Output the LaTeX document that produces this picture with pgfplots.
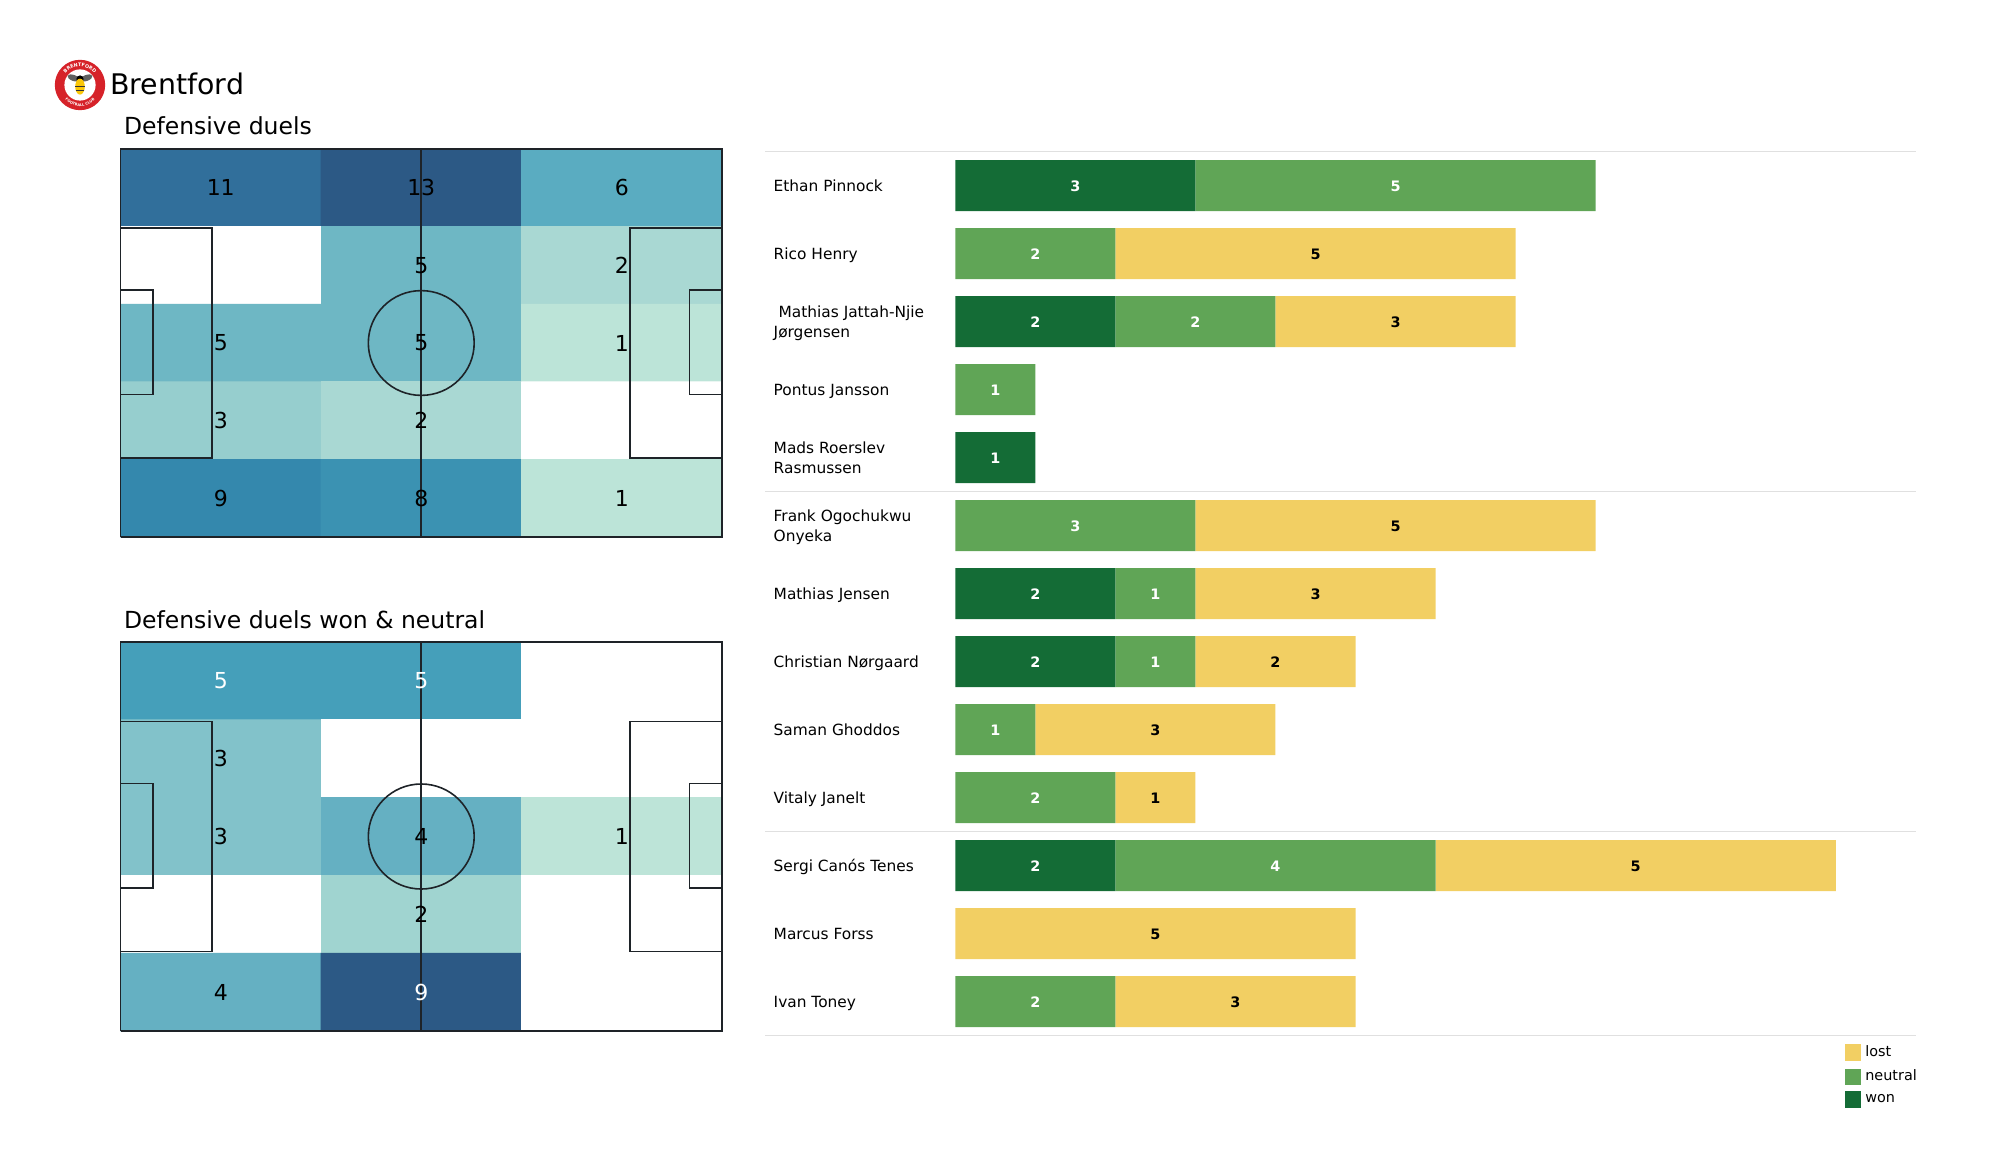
\documentclass[border=0pt]{standalone}
\usepackage{fontspec}
\setmainfont{DejaVu Sans}
\usepackage{pgfplots}
\usepackage{pgfplotstable}
\pgfplotsset{compat=1.18}
\usetikzlibrary{decorations.text}
\definecolor{wonc}{HTML}{146C36}
\definecolor{neutralc}{HTML}{60A556}
\definecolor{lostc}{HTML}{F2CF63}
\definecolor{rule}{HTML}{E0E0E0}
\definecolor{pline}{HTML}{1E2328}
\definecolor{crestred}{HTML}{D62229}

% keeps every name line the same height, so descenders do not move it
\newcommand{\nm}{\rule[-2pt]{0pt}{9pt}}

% heat cells, one row per cell
\pgfplotstableread{
x y v
16.667 90 11
50 90 13
83.333 90 6
16.667 70 0
50 70 5
83.333 70 2
16.667 50 5
50 50 5
83.333 50 1
16.667 30 3
50 30 2
83.333 30 0
16.667 10 9
50 10 8
83.333 10 1
}\duelsall
\pgfplotstableread{
x y v
16.667 90 5
50 90 5
83.333 90 0
16.667 70 3
50 70 0
83.333 70 0
16.667 50 3
50 50 4
83.333 50 1
16.667 30 0
50 30 2
83.333 30 0
16.667 10 4
50 10 9
83.333 10 0
}\duelswon

\pgfplotstableread{
row won neutral lost
1 3 5 0
2 0 2 5
3 2 2 3
4 0 1 0
5 1 0 0
6 0 3 5
7 2 1 3
8 2 1 2
9 0 1 3
10 0 2 1
11 2 4 5
12 0 0 5
13 0 2 3
}\duelbars

% label positions for the bars (middle of each segment)
\pgfplotstableread{
x y l
1.5 1 3
5.5 1 5
1 2 2
1 3 2
3 3 2
0.5 4 1
0.5 5 1
1.5 6 3
1 7 2
2.5 7 1
1 8 2
2.5 8 1
0.5 9 1
1 10 2
1 11 2
4 11 4
1 13 2
}\barlabelswhite
\pgfplotstableread{
x y l
4.5 2 5
5.5 3 3
5.5 6 5
4.5 7 3
4 8 2
2.5 9 3
2.5 10 1
8.5 11 5
2.5 12 5
3.5 13 3
}\barlabelsblack

\newcommand{\pitchlines}{%
  \addplot[pl] coordinates {(0,0) (100,0) (100,100) (0,100) (0,0)};
  \addplot[pl] coordinates {(50,0) (50,100)};
  \addplot[pl] coordinates {(0,20.4) (15.2,20.4) (15.2,79.6) (0,79.6)};
  \addplot[pl] coordinates {(100,20.4) (84.7,20.4) (84.7,79.6) (100,79.6)};
  \addplot[pl] coordinates {(0,36.7) (5.4,36.7) (5.4,63.6) (0,63.6)};
  \addplot[pl] coordinates {(100,36.7) (94.6,36.7) (94.6,63.6) (100,63.6)};
  \draw[color=pline, line width=0.8pt] (axis cs:50,50) ellipse [x radius=8.8, y radius=13.5];
}

\pgfplotsset{
  pl/.style={color=pline, line width=0.8pt, mark=none, forget plot},
  pitch/.style={
    scale only axis, width=300.75pt,
    xmin=0, xmax=100, ymin=0, ymax=100,
    axis lines=none, clip=false, ticks=none,
  },
  cellnum/.style={
    only marks, mark size=0pt, forget plot,
    point meta=explicit symbolic, nodes near coords,
    every node near coord/.append style={anchor=center, inner sep=0pt, text=#1},
  },
  sw/.style={legend image code/.code={
    \fill[##1] (0pt,-4.1pt) rectangle (8.3pt,4.1pt);}},
}

\begin{document}
\begin{tikzpicture}[x=1pt,y=1pt]
\path[use as bounding box] (0,0) rectangle (1000,587.5);

% crest
\begin{scope}[shift={(40,545)}]
  \fill[crestred] (0,0) circle (12.6);
  \fill[white] (0,0) circle (7.8);
  \path[postaction={decorate,decoration={text along path,text align=center,
     text={|\fontsize{2.4}{3}\bfseries\color{white}|BRENTFORD}}}]
     (-9.2,1.5) arc (170:10:9.3);
  \path[postaction={decorate,decoration={text along path,text align=center,
     text={|\fontsize{1.8}{3}\bfseries\color{white}|FOOTBALL CLUB}}}]
     (-10.2,-2) arc (190:350:10.4);
  \fill[gray!75!black,rotate=-20] (-4.2,2.2) ellipse (3.2 and 1.5);
  \fill[gray!75!black,rotate=20] (4.2,2.2) ellipse (3.2 and 1.5);
  \fill[black] (0,3) circle (1.8);
  \fill[yellow!60!orange] (0,-0.8) ellipse (2.4 and 4);
  \fill[black!80] (-2.3,-1.2) rectangle (2.3,-0.6);
  \fill[black!80] (-1.9,-3) rectangle (1.9,-2.4);
\end{scope}

\node[anchor=base west,inner sep=0pt,font=\fontsize{14.2}{17}\selectfont] at (55,540.2) {Brentford};
\node[anchor=base west,inner sep=0pt,font=\fontsize{11.75}{15}\selectfont] at (61.8,520.3) {Defensive duels};
\node[anchor=base west,inner sep=0pt,font=\fontsize{11.75}{15}\selectfont] at (61.8,273.5) {Defensive duels won \& neutral};

% first pitch
\begin{axis}[pitch, at={(60.25pt,319pt)}, anchor=south west, height=194pt,
  point meta min=0, point meta max=13,
  colormap={allduels}{
    rgb255(0)=(255,255,255) rgb255(1)=(188,228,216) rgb255(2)=(169,216,211)
    rgb255(3)=(150,206,206) rgb255(5)=(110,183,196) rgb255(6)=(90,172,193)
    rgb255(8)=(59,146,178) rgb255(9)=(52,136,173) rgb255(11)=(49,111,155)
    rgb255(13)=(44,89,133)},
  nodes near coords style={font=\fontsize{11}{13}\selectfont}]
  \addplot[matrix plot*, mesh/cols=3, point meta=explicit, forget plot]
    table[x=x, y=y, meta=v] {\duelsall};
  \pitchlines
  \addplot[cellnum=black] table[meta=l] {
    x y l
    16.667 90 11
    50 90 13
    83.333 90 6
    50 70 5
    83.333 70 2
    16.667 50 5
    50 50 5
    83.333 50 1
    16.667 30 3
    50 30 2
    16.667 10 9
    50 10 8
    83.333 10 1
  };
\end{axis}

% second pitch
\begin{axis}[pitch, at={(60.25pt,72pt)}, anchor=south west, height=194.5pt,
  point meta min=0, point meta max=9,
  colormap={wonduels}{
    rgb255(0)=(255,255,255) rgb255(1)=(189,228,216) rgb255(2)=(160,212,208)
    rgb255(3)=(130,194,202) rgb255(4)=(101,176,194) rgb255(5)=(69,159,186)
    rgb255(9)=(44,89,133)},
  nodes near coords style={font=\fontsize{11}{13}\selectfont}]
  \addplot[matrix plot*, mesh/cols=3, point meta=explicit, forget plot]
    table[x=x, y=y, meta=v] {\duelswon};
  \pitchlines
  \addplot[cellnum=black] table[meta=l] {
    x y l
    16.667 70 3
    16.667 50 3
    50 50 4
    83.333 50 1
    50 30 2
    16.667 10 4
  };
  \addplot[cellnum=white] table[meta=l] {
    x y l
    16.667 90 5
    50 90 5
    50 10 9
  };
\end{axis}

% player bars
\begin{axis}[
  scale only axis, at={(477.65pt,69.65pt)}, anchor=south west,
  width=480.25pt, height=442pt,
  xbar stacked, bar width=25.5pt, bar shift=0pt,
  xmin=0, xmax=12, ymin=0.5, ymax=13.5, y dir=reverse,
  axis line style={draw=none}, tick style={draw=none},
  clip=false, xtick=\empty,
  ytick={1,...,13},
  yticklabels={\nm Ethan Pinnock, \nm Rico Henry, {\nm\ Mathias Jattah-Njie\\\nm Jørgensen},
    \nm Pontus Jansson, {\nm Mads Roerslev\\\nm Rasmussen}, {\nm Frank Ogochukwu\\\nm Onyeka},
    \nm Mathias Jensen, \nm Christian Nørgaard, \nm Saman Ghoddos, \nm Vitaly Janelt,
    \nm Sergi Canós Tenes, \nm Marcus Forss, \nm Ivan Toney},
  yticklabel style={align=left, anchor=west, xshift=-91pt, yshift=-0.5pt, inner sep=0pt,
    font=\fontsize{7.7}{10}\selectfont},
  legend style={at={(0.9256,0)}, anchor=north west, yshift=-2.8pt, draw=none,
    fill=none, inner sep=0pt, row sep=1.1pt, font=\fontsize{7.2}{9}\selectfont},
  legend cell align=left, reverse legend,
]
  \addplot[sw, fill=wonc, draw=none] table[x=won, y=row] {\duelbars};
  \addplot[sw, fill=neutralc, draw=none] table[x=neutral, y=row] {\duelbars};
  \addplot[sw, fill=lostc, draw=none] table[x=lost, y=row] {\duelbars};
  \legend{won, neutral, lost}
\end{axis}

% separators and bar numbers on a plain overlay of the same size
\begin{axis}[
  scale only axis, at={(477.65pt,69.65pt)}, anchor=south west,
  width=480.25pt, height=442pt,
  xmin=0, xmax=12, ymin=0.5, ymax=13.5, y dir=reverse,
  axis lines=none, ticks=none, clip=false,
  nodes near coords style={font=\fontsize{7.2}{9}\bfseries\selectfont, yshift=-0.4pt},
]
  \addplot[color=rule, line width=0.7pt, mark=none] coordinates {(-2.375,0.5) (12,0.5)};
  \addplot[color=rule, line width=0.7pt, mark=none] coordinates {(-2.375,5.5) (12,5.5)};
  \addplot[color=rule, line width=0.7pt, mark=none] coordinates {(-2.375,10.5) (12,10.5)};
  \addplot[color=rule, line width=0.7pt, mark=none] coordinates {(-2.375,13.5) (12,13.5)};
  \addplot[cellnum=white] table[meta=l] {\barlabelswhite};
  \addplot[cellnum=black] table[meta=l] {\barlabelsblack};
\end{axis}
\end{tikzpicture}
\end{document}
